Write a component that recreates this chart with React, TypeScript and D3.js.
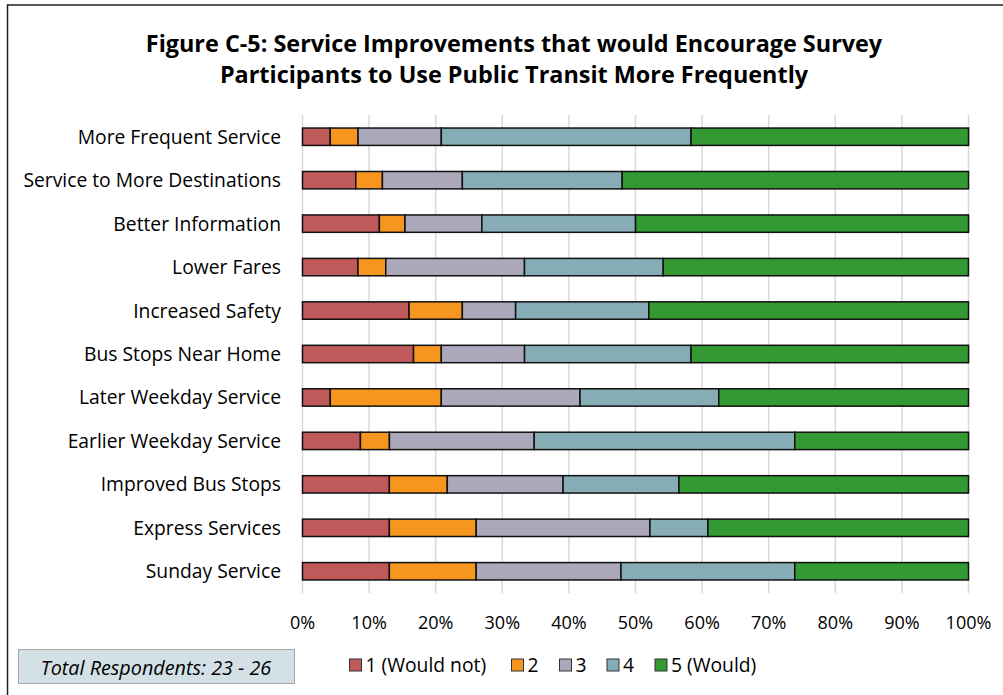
import React from "react";
import * as d3 from "d3";

const categories = [
  "More Frequent Service",
  "Service to More Destinations",
  "Better Information",
  "Lower Fares",
  "Increased Safety",
  "Bus Stops Near Home",
  "Later Weekday Service",
  "Earlier Weekday Service",
  "Improved Bus Stops",
  "Express Services",
  "Sunday Service",
];

const seriesNames = ["1 (Would not)", "2", "3", "4", "5 (Would)"];
const seriesColors = ["#C0595A", "#F7961F", "#ABA8BC", "#86ADB6", "#339933"];

// percent of respondents per rating
const would1 = [4.17, 8.0, 11.54, 8.33, 16.0, 16.67, 4.17, 8.7, 13.04, 13.04, 13.04];
const would2 = [4.17, 4.0, 3.85, 4.17, 8.0, 4.17, 16.67, 4.35, 8.7, 13.04, 13.04];
const would3 = [12.5, 12.0, 11.54, 20.83, 8.0, 12.5, 20.83, 21.74, 17.39, 26.09, 21.74];
const would4 = [37.5, 24.0, 23.08, 20.83, 20.0, 25.0, 20.83, 39.13, 17.39, 8.7, 26.09];
const would5 = [41.67, 52.0, 50.0, 45.83, 48.0, 41.67, 37.5, 26.09, 43.48, 39.13, 26.09];

const xTicks = [0, 10, 20, 30, 40, 50, 60, 70, 80, 90, 100];

const W = 1003;
const H = 695;
const FONT = "'Open Sans', sans-serif";

export default function App() {
  const series = [would1, would2, would3, would4, would5];
  const rows = categories.map((c, i) => {
    const r: any = { cat: c };
    seriesNames.forEach((s, k) => (r[s] = series[k][i]));
    return r;
  });
  const stack = d3.stack<any>().keys(seriesNames)(rows);

  const x = d3.scaleLinear().domain([0, 100]).range([302.5, 968.5]);
  const y = d3.scaleBand().domain(categories).range([115, 593]).paddingInner(0.6).paddingOuter(0.3);

  const legendX = [349.5, 511.5, 559.5, 607, 655];

  return (
    <svg width={W} height={H} style={{ position: "absolute", left: 0, top: 0, background: "#fff" }}>
      <rect x={0} y={0} width={W} height={H} fill="#fff" />
      <rect x={7.5} y={5} width={W} height={H} fill="#fff" stroke="#222" strokeWidth={1.5} />
      <text x={514} y={52} textAnchor="middle" fontFamily={FONT} fontWeight="bold" fontSize={23.4} fill="#000">
        Figure C-5: Service Improvements that would Encourage Survey
      </text>
      <text x={514} y={83} textAnchor="middle" fontFamily={FONT} fontWeight="bold" fontSize={23.4} fill="#000">
        Participants to Use Public Transit More Frequently
      </text>
      {xTicks.map((t) => (
        <g key={t}>
          <line x1={x(t)} x2={x(t)} y1={115} y2={593} stroke="#D9D9D9" strokeWidth={1.5} />
          <text x={x(t)} y={629} textAnchor="middle" fontFamily={FONT} fontSize={18} fill="#000">
            {t}%
          </text>
        </g>
      ))}
      {stack.map((s, k) => (
        <g key={k}>
          {s.map((d: any, i: number) => (
            <rect
              key={i}
              x={x(d[0])}
              width={x(d[1]) - x(d[0])}
              y={y(categories[i])!}
              height={y.bandwidth()}
              fill={seriesColors[k]}
              stroke="#111"
              strokeWidth={1.5}
            />
          ))}
        </g>
      ))}
      {categories.map((c) => (
        <text
          key={c}
          x={281}
          y={y(c)! + y.bandwidth() / 2 + 7}
          textAnchor="end"
          fontFamily={FONT}
          fontSize={19.3}
          fill="#000"
        >
          {c}
        </text>
      ))}
      {seriesNames.map((s, k) => (
        <g key={s}>
          <rect x={legendX[k]} y={659} width={12} height={12} fill={seriesColors[k]} stroke="#333" strokeWidth={1} />
          <text x={legendX[k] + 16} y={672} fontFamily={FONT} fontSize={19.3} fill="#000">
            {s}
          </text>
        </g>
      ))}
      <rect x={18.5} y={649.5} width={276} height={34} fill="#D3E0E6" stroke="#A6A6A6" strokeWidth={1} />
      <text x={156} y={675} textAnchor="middle" fontFamily={FONT} fontStyle="italic" fontSize={19.8} fill="#000">
        Total Respondents: 23 - 26
      </text>
    </svg>
  );
}
